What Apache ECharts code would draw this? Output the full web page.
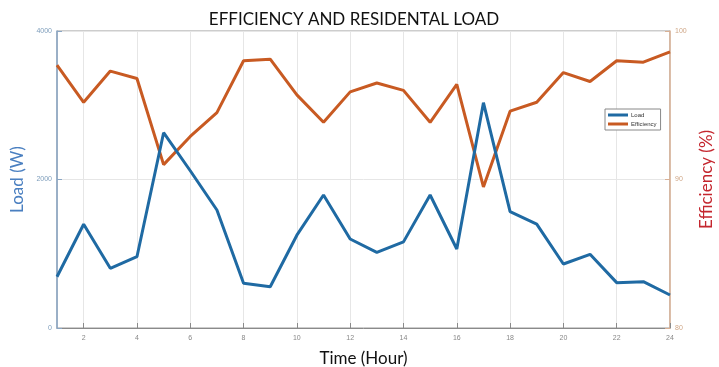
<!DOCTYPE html>
<html><head><meta charset="utf-8">
<script src="https://cdn.jsdelivr.net/npm/echarts@6/dist/echarts.min.js"></script>
<style>html,body{margin:0;padding:0;background:#fff}#c{width:719px;height:367px}</style>
</head><body><div id="c"></div>
<script>
const hours = ['1','2','3','4','5','6','7','8','9','10','11','12','13','14','15','16','17','18','19','20','21','22','23','24'];
const loadW = [690,1397,804,960,2630,2118,1589,602,556,1250,1791,1199,1019,1160,1791,1064,3034,1566,1400,862,992,611,624,444];
const efficiency = [97.7,95.2,97.3,96.8,91.0,92.9,94.5,98.0,98.1,95.7,93.85,95.9,96.5,96.0,93.85,96.4,89.5,94.6,95.2,97.2,96.6,98.0,97.9,98.6];
const loadTicks = [0,4000,2000];
const effTicks = [80,100,10];

const evenIdx = (i) => (i % 2 === 1);
const plain = (v) => String(v);
const chart = echarts.init(document.getElementById('c'), null, {renderer:'canvas'});
chart.setOption({
  animation:false,
  backgroundColor:'#ffffff',
  title:{text:'EFFICIENCY AND RESIDENTAL LOAD', left:349, top:6, textAlign:'center',
    textStyle:{fontFamily:'Lato', fontSize:17, fontWeight:'normal', color:'#111'}},
  grid:{left:57, right:49, top:31, bottom:39, show:true, borderColor:'#9a9a9a', borderWidth:1,
    containLabel:false, outerBoundsMode:'none'},
  legend:{left:605, top:109, orient:'vertical', itemWidth:20, itemHeight:3, itemGap:3, icon:'rect',
    padding:[3,4,3,3], borderColor:'#888', borderWidth:1, backgroundColor:'#fff',
    textStyle:{fontSize:6, color:'#333', fontFamily:'Liberation Sans', padding:[0,0,0,-2]},
    data:['Load','Efficiency']},
  xAxis:{type:'category', data:hours, boundaryGap:false,
    name:'Time (Hour)', nameLocation:'middle', nameGap:22,
    nameTextStyle:{fontFamily:'Lato', fontSize:17, color:'#111'},
    axisLine:{lineStyle:{color:'#8a8a8a'}},
    axisTick:{inside:true, length:5, interval:evenIdx, lineStyle:{color:'#8a8a8a'}},
    axisLabel:{interval:evenIdx, fontSize:7, color:'#888', margin:7},
    splitLine:{show:true, interval:evenIdx, lineStyle:{color:'#e6e6e6'}}},
  yAxis:[
    {type:'value', min:loadTicks[0], max:loadTicks[1], interval:loadTicks[2], position:'left',
     name:'Load (W)', nameLocation:'middle', nameGap:29, nameRotate:90,
     nameTextStyle:{fontFamily:'Lato', fontSize:17, color:'#4a7fc0'},
     axisLine:{show:true, lineStyle:{color:'#8aa6c4', width:1.5}},
     axisTick:{show:true, inside:true, length:5, lineStyle:{color:'#8aa6c4'}},
     axisLabel:{fontSize:7, color:'#7d9dbb', margin:5, formatter:plain},
     splitLine:{show:true, lineStyle:{color:'#e6e6e6'}}},
    {type:'value', min:effTicks[0], max:effTicks[1], interval:effTicks[2], position:'right',
     name:'Efficiency (%)', nameLocation:'middle', nameGap:20, nameRotate:90,
     nameTextStyle:{fontFamily:'Lato', fontSize:17, color:'#c4262e'},
     axisLine:{show:true, lineStyle:{color:'#d9b094', width:1.5}},
     axisTick:{show:true, inside:true, length:5, lineStyle:{color:'#d9b094'}},
     axisLabel:{fontSize:7, color:'#cfa686', margin:5, formatter:plain},
     splitLine:{show:false}}
  ],
  series:[
    {name:'Load', type:'line', yAxisIndex:0, data:loadW, showSymbol:false, symbol:'none',
     lineStyle:{width:3, color:'#1f6aa3'}, itemStyle:{color:'#1f6aa3'}, z:3},
    {name:'Efficiency', type:'line', yAxisIndex:1, data:efficiency, showSymbol:false, symbol:'none',
     lineStyle:{width:3, color:'#c85a22'}, itemStyle:{color:'#c85a22'}, z:2}
  ]
});
</script></body></html>
